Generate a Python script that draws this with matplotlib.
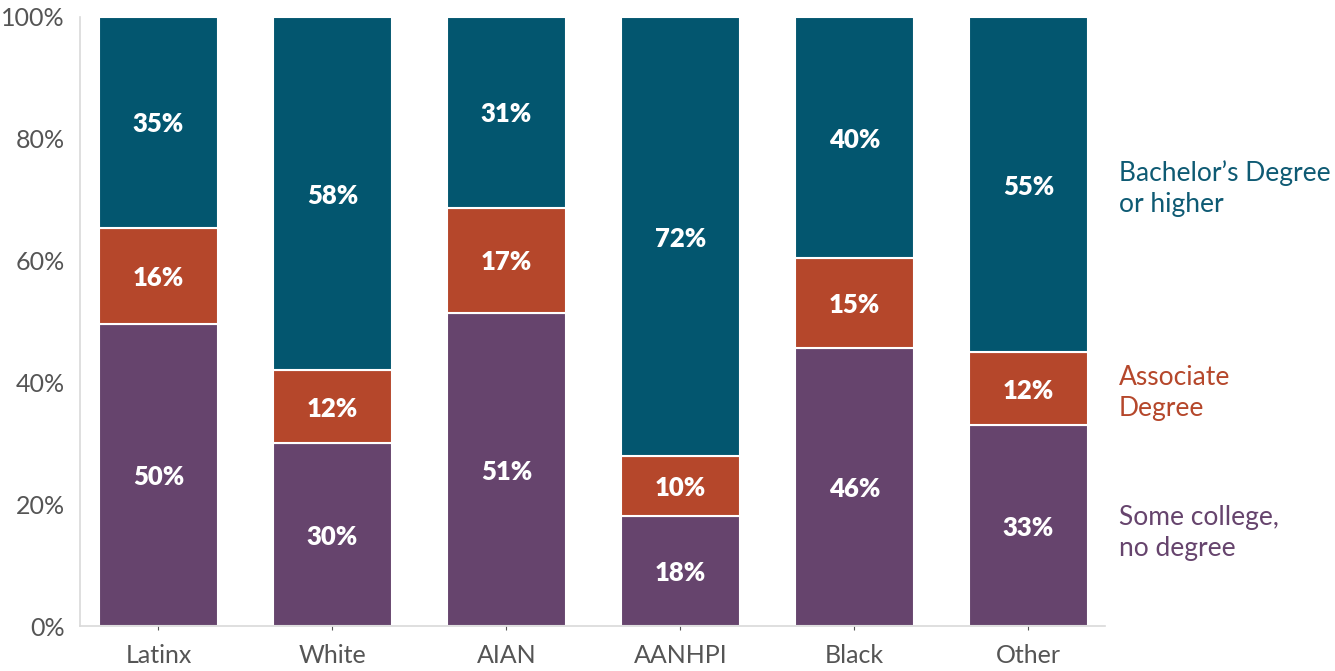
import matplotlib
matplotlib.use("Agg")
import matplotlib.pyplot as plt
import matplotlib.transforms as mtransforms
import numpy as np

categories = ["Latinx", "White", "AIAN", "AANHPI", "Black", "Other"]
some_college = [49.6, 30.0, 51.4, 18.1, 45.6, 33.0]
associate = [15.8, 12.0, 17.3, 9.8, 14.8, 12.0]
bachelor = [34.6, 58.0, 31.3, 72.1, 39.6, 55.0]
series_names = ["Some college,\nno degree", "Associate\nDegree", "Bachelor\u2019s Degree\nor higher"]
yticks = [0, 20, 40, 60, 80, 100]
ytick_labels = ["0%", "20%", "40%", "60%", "80%", "100%"]

colors = ["#66446D", "#B5472B", "#03566F"]
legend_colors = ["#66446D", "#B5472B", "#0E5A73"]

plt.rcParams['font.family'] = ['Lato', 'DejaVu Sans']

fig = plt.figure(figsize=(13.35, 6.71), dpi=100)
ax = fig.add_axes([80/1335, 1 - 626/671, (1105-80)/1335, (626-17)/671])

x = np.arange(len(categories))
width = 0.684
bottom = np.zeros(len(categories))
for vals, col in zip([some_college, associate, bachelor], colors):
    vals = np.array(vals)
    ax.bar(x, vals, width, bottom=bottom, color=col, edgecolor="white", linewidth=1.5)
    for xi, b, v in zip(x, bottom, vals):
        ax.text(xi, b + v/2 - 0.35, f"{round(v):.0f}%", ha="center", va="center",
                color="white", fontsize=18.5, fontweight="heavy")
    bottom += vals

ax.set_xlim(-0.451, 5.44)
ax.set_ylim(0, 100)
ax.set_yticks(yticks)
ax.set_yticklabels(ytick_labels, fontsize=18, color="#555555")
ax.set_xticks(x)
ax.set_xticklabels(categories, fontsize=18, color="#555555")
ax.tick_params(axis="y", length=0, pad=11)
ax.tick_params(axis="x", length=3, color="#555555", width=0.8, pad=10)
for s in ["top", "right"]:
    ax.spines[s].set_visible(False)
ax.spines["left"].set_color("#d9d9d9")
ax.spines["bottom"].set_color("#d9d9d9")
ax.spines["left"].set_linewidth(1.2)
ax.spines["bottom"].set_linewidth(1.2)

# legend labels on the right
trans = mtransforms.blended_transform_factory(fig.transFigure, ax.transData)
legend_y = [15.3, 38.3, 71.9]
for name, col, ly in zip(series_names, legend_colors, legend_y):
    ax.text(1119/1335, ly, name, transform=trans, clip_on=False,
            color=col, fontsize=19, va="center", ha="left", linespacing=1.3)

fig.savefig("out.png", dpi=100)
